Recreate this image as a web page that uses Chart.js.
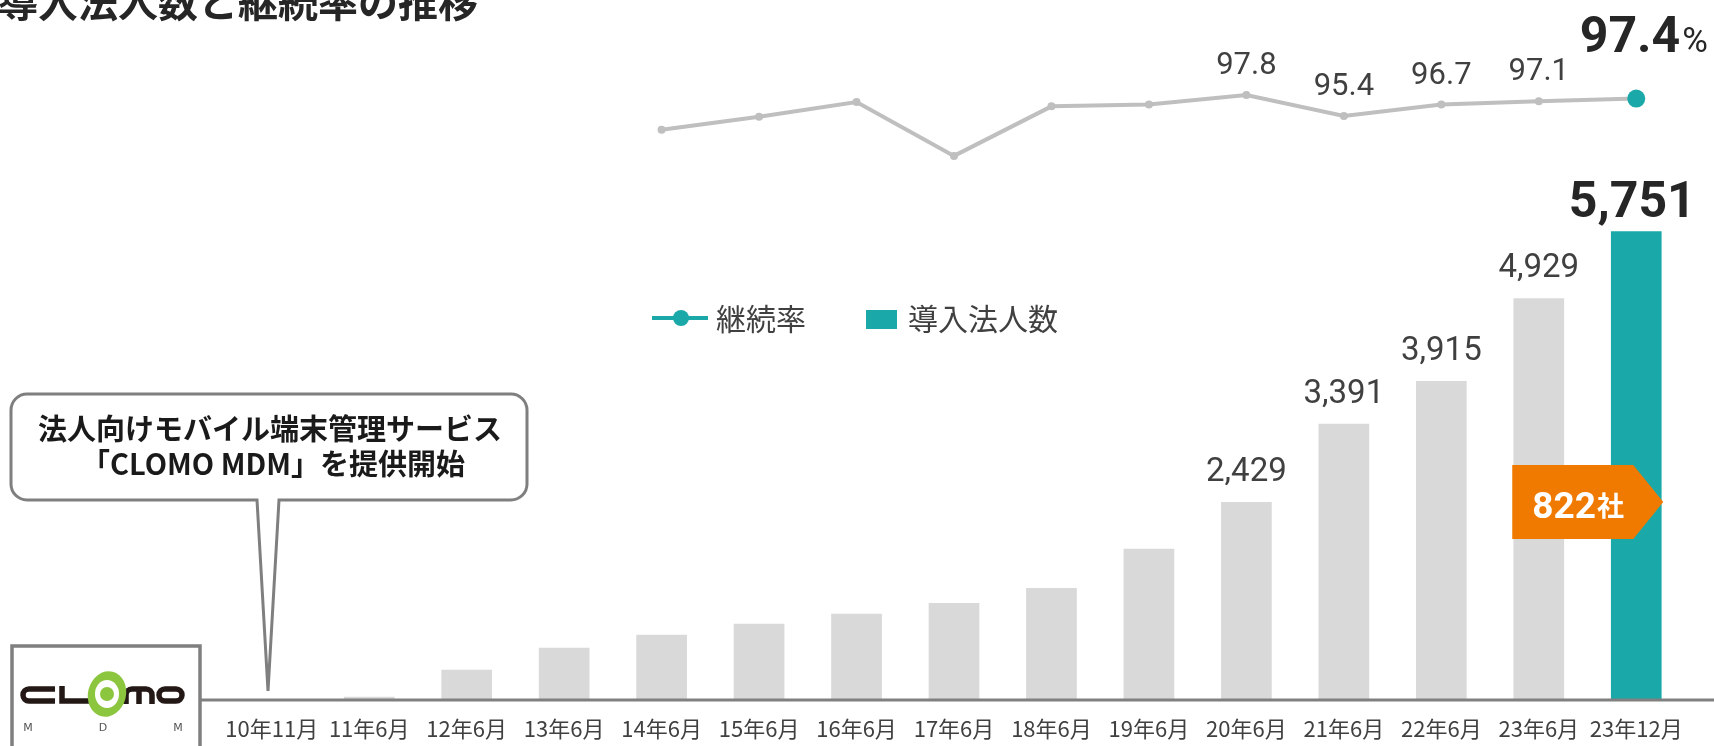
<!DOCTYPE html>
<html lang="ja">
<head>
<meta charset="UTF-8">
<title>導入法人数と継続率の推移</title>
<script src="https://cdn.jsdelivr.net/npm/chart.js@4.4.0/dist/chart.umd.min.js"></script>
<style>
    body { margin: 0; background: #fff; }
    #wrap { position: relative; width: 1714px; height: 746px; }
</style>
</head>
<body>
<div id="wrap"><canvas id="chart"></canvas></div>
<script>
// --- data ---
const categories = ['10年11月', '11年6月', '12年6月', '13年6月', '14年6月', '15年6月', '16年6月', '17年6月',
                    '18年6月', '19年6月', '20年6月', '21年6月', '22年6月', '23年6月', '23年12月'];
const companies = [0, 40, 370, 640, 800, 935, 1060, 1190, 1375, 1855, 2429, 3391, 3915, 4929, 5751];
const retention = [null, null, null, null, 93.8, 95.3, 97.0, 90.8, 96.5, 96.7, 97.8, 95.4, 96.7, 97.1, 97.4];
const companyLabels = ['', '', '', '', '', '', '', '', '', '', '2,429', '3,391', '3,915', '4,929', '5,751'];
const retentionLabels = ['', '', '', '', '', '', '', '', '', '', '97.8', '95.4', '96.7', '97.1', '97.4'];
const seriesNames = ['継続率', '導入法人数'];
const increaseLabel = '822';
const titleText = '導入法人数と継続率の推移';
const calloutLines = ['法人向けモバイル端末管理サービス', '「CLOMO MDM」を提供開始'];

const TEAL = '#1AA9A8';
const GREY_BAR = '#D9D9D9';
const GREY_LINE = '#BFBFBF';
const TEXT = '#404040';
const NUM = 'Roboto, "Noto Sans CJK JP", sans-serif';
const JP = '"Noto Sans CJK JP", sans-serif';

const last = categories.length - 1;

function roundRectPath(ctx, x, y, w, h, r) {
    ctx.moveTo(x + r, y);
    ctx.lineTo(x + w - r, y);
    ctx.arcTo(x + w, y, x + w, y + r, r);
    ctx.lineTo(x + w, y + h - r);
    ctx.arcTo(x + w, y + h, x + w - r, y + h, r);
    ctx.lineTo(x + r, y + h);
    ctx.arcTo(x, y + h, x, y + h - r, r);
    ctx.lineTo(x, y + r);
    ctx.arcTo(x, y, x + r, y, r);
}

// --- extra drawing: labels, legend, callout, logo, tag ---
const decor = {
    id: 'decor',
    afterDatasetsDraw(chart) {
        const ctx = chart.ctx;
        const area = chart.chartArea;
        // base axis line
        ctx.save();
        ctx.strokeStyle = '#808080';
        ctx.lineWidth = 3;
        ctx.beginPath();
        ctx.moveTo(200, area.bottom);
        ctx.lineTo(1714, area.bottom);
        ctx.stroke();
        ctx.restore();
    },
    afterDraw(chart) {
        const ctx = chart.ctx;
        const bars = chart.getDatasetMeta(1).data;
        const pts = chart.getDatasetMeta(0).data;
        const yScale = chart.scales.y;
        ctx.save();

        // title (cut off at top)
        ctx.fillStyle = '#262626';
        ctx.font = 'bold 40px ' + JP;
        ctx.textAlign = 'left';
        ctx.textBaseline = 'alphabetic';
        ctx.fillText(titleText, -2, 17);

        // bar value labels
        ctx.textAlign = 'center';
        companyLabels.forEach((lab, i) => {
            if (!lab) return;
            const b = bars[i];
            if (i === last) {
                ctx.fillStyle = '#262626';
                ctx.font = 'bold 50px ' + NUM;
                ctx.fillText(lab, b.x - 4, b.y - 14);
            } else {
                ctx.fillStyle = TEXT;
                ctx.font = '33px ' + NUM;
                ctx.fillText(lab, b.x, b.y - 21);
            }
        });

        // retention labels
        retentionLabels.forEach((lab, i) => {
            if (!lab) return;
            const p = pts[i];
            if (i === last) {
                ctx.fillStyle = '#262626';
                ctx.font = 'bold 50px ' + NUM;
                ctx.textAlign = 'right';
                ctx.fillText(lab, p.x + 44, p.y - 47);
                ctx.font = '35px ' + NUM;
                ctx.textAlign = 'left';
                ctx.fillText('%', p.x + 46, p.y - 47);
                ctx.textAlign = 'center';
            } else {
                ctx.fillStyle = TEXT;
                ctx.font = '31px ' + NUM;
                ctx.fillText(lab, p.x, p.y - 21);
            }
        });

        // legend
        ctx.strokeStyle = TEAL;
        ctx.lineWidth = 4;
        ctx.beginPath();
        ctx.moveTo(652, 318);
        ctx.lineTo(708, 318);
        ctx.stroke();
        ctx.fillStyle = TEAL;
        ctx.beginPath();
        ctx.arc(681, 318, 8, 0, Math.PI * 2);
        ctx.fill();
        ctx.fillRect(866, 310, 31, 19);
        ctx.fillStyle = TEXT;
        ctx.font = '30px ' + JP;
        ctx.textAlign = 'left';
        ctx.textBaseline = 'middle';
        ctx.fillText(seriesNames[0], 716, 319);
        ctx.fillText(seriesNames[1], 908, 319);

        // callout bubble
        ctx.beginPath();
        const bx = 11, by = 394, bw = 516, bh = 106, r = 16;
        ctx.moveTo(bx + r, by);
        ctx.lineTo(bx + bw - r, by);
        ctx.arcTo(bx + bw, by, bx + bw, by + r, r);
        ctx.lineTo(bx + bw, by + bh - r);
        ctx.arcTo(bx + bw, by + bh, bx + bw - r, by + bh, r);
        ctx.lineTo(279, by + bh);
        ctx.lineTo(268, 691);
        ctx.lineTo(257, by + bh);
        ctx.lineTo(bx + r, by + bh);
        ctx.arcTo(bx, by + bh, bx, by + bh - r, r);
        ctx.lineTo(bx, by + r);
        ctx.arcTo(bx, by, bx + r, by, r);
        ctx.closePath();
        ctx.fillStyle = '#fff';
        ctx.fill();
        ctx.strokeStyle = '#7F7F7F';
        ctx.lineWidth = 3;
        ctx.stroke();
        ctx.fillStyle = '#1a1a1a';
        ctx.font = 'bold 29px ' + JP;
        ctx.textAlign = 'center';
        ctx.fillText(calloutLines[0], 270, 429);
        ctx.fillText(calloutLines[1], 273, 464);

        // logo box
        ctx.strokeStyle = '#7F7F7F';
        ctx.lineWidth = 3.5;
        ctx.strokeRect(12, 646, 188, 120);
        ctx.strokeStyle = '#231815';
        ctx.lineWidth = 5.5;
        ctx.lineCap = 'butt';
        ctx.beginPath();               // c
        ctx.moveTo(55, 689);
        ctx.lineTo(29, 689);
        ctx.arcTo(23, 689, 23, 695, 6);
        ctx.arcTo(23, 701, 29, 701, 6);
        ctx.lineTo(55, 701);
        ctx.stroke();
        ctx.beginPath();               // l
        ctx.moveTo(62, 686);
        ctx.lineTo(62, 701);
        ctx.lineTo(90, 701);
        ctx.stroke();
        ctx.beginPath();               // m
        ctx.moveTo(126, 704);
        ctx.lineTo(126, 695);
        ctx.arcTo(126, 689, 132, 689, 6);
        ctx.lineTo(146, 689);
        ctx.arcTo(152, 689, 152, 695, 6);
        ctx.lineTo(152, 704);
        ctx.moveTo(139, 689);
        ctx.lineTo(139, 704);
        ctx.stroke();
        ctx.beginPath();               // o
        roundRectPath(ctx, 159, 689, 23, 12, 6);
        ctx.stroke();
        ctx.fillStyle = '#8CC63F';
        ctx.beginPath();
        ctx.ellipse(107, 694, 19, 23, 0.25, 0, Math.PI * 2);
        ctx.fill();
        ctx.fillStyle = '#fff';
        ctx.beginPath();
        ctx.ellipse(107, 694, 12, 14, 0, 0, Math.PI * 2);
        ctx.fill();
        ctx.fillStyle = '#8CC63F';
        ctx.beginPath();
        ctx.arc(107, 694, 7, 0, Math.PI * 2);
        ctx.fill();
        ctx.fillStyle = '#555';
        ctx.font = '11px "DejaVu Sans", sans-serif';
        ctx.fillText('M', 28, 728);
        ctx.fillText('D', 103, 728);
        ctx.fillText('M', 178, 728);

        // orange increase tag on last bar
        const tb = bars[last];
        const ty = yScale.getPixelForValue(2430);
        ctx.fillStyle = '#F07A00';
        ctx.beginPath();
        ctx.moveTo(tb.x - 124, ty - 37);
        ctx.lineTo(tb.x - 3, ty - 37);
        ctx.lineTo(tb.x + 27, ty);
        ctx.lineTo(tb.x - 3, ty + 37);
        ctx.lineTo(tb.x - 124, ty + 37);
        ctx.closePath();
        ctx.fill();
        ctx.fillStyle = '#fff';
        ctx.textBaseline = 'alphabetic';
        ctx.textAlign = 'left';
        ctx.font = 'bold 37px ' + NUM;
        ctx.fillText(increaseLabel, tb.x - 104, ty + 16);
        const w = ctx.measureText(increaseLabel).width;
        ctx.font = 'bold 27px ' + JP;
        ctx.fillText('社', tb.x - 104 + w + 1, ty + 14);

        ctx.restore();
    }
};

const chart = new Chart(document.getElementById('chart'), {
    type: 'bar',
    data: {
        labels: categories,
        datasets: [{
            type: 'line',
            label: seriesNames[0],
            data: retention,
            yAxisID: 'y2',
            order: 1,
            borderColor: GREY_LINE,
            borderWidth: 4,
            tension: 0,
            pointRadius: c => c.dataIndex === last ? 9 : 4,
            pointBackgroundColor: c => c.dataIndex === last ? TEAL : GREY_LINE,
            pointBorderWidth: 0
        }, {
            label: seriesNames[1],
            data: companies,
            yAxisID: 'y',
            order: 2,
            backgroundColor: c => c.dataIndex === last ? TEAL : GREY_BAR,
            barPercentage: 0.52,
            categoryPercentage: 1
        }]
    },
    options: {
        responsive: true,
        maintainAspectRatio: false,
        animation: false,
        layout: { padding: { left: 223, right: 29, top: 0, bottom: 0 } },
        plugins: { legend: { display: false }, tooltip: { enabled: false } },
        scales: {
            x: {
                grid: { display: false, drawTicks: false },
                border: { display: false },
                ticks: { color: TEXT, font: { family: JP, size: 22 }, padding: 15, maxRotation: 0, autoSkip: false },
                afterFit: s => { s.height = 46; }
            },
            y: { display: false, min: 0, max: 8480 },
            y2: { display: false, min: 28.2, max: 107.7 }
        }
    },
    plugins: [decor]
});
</script>
</body>
</html>
